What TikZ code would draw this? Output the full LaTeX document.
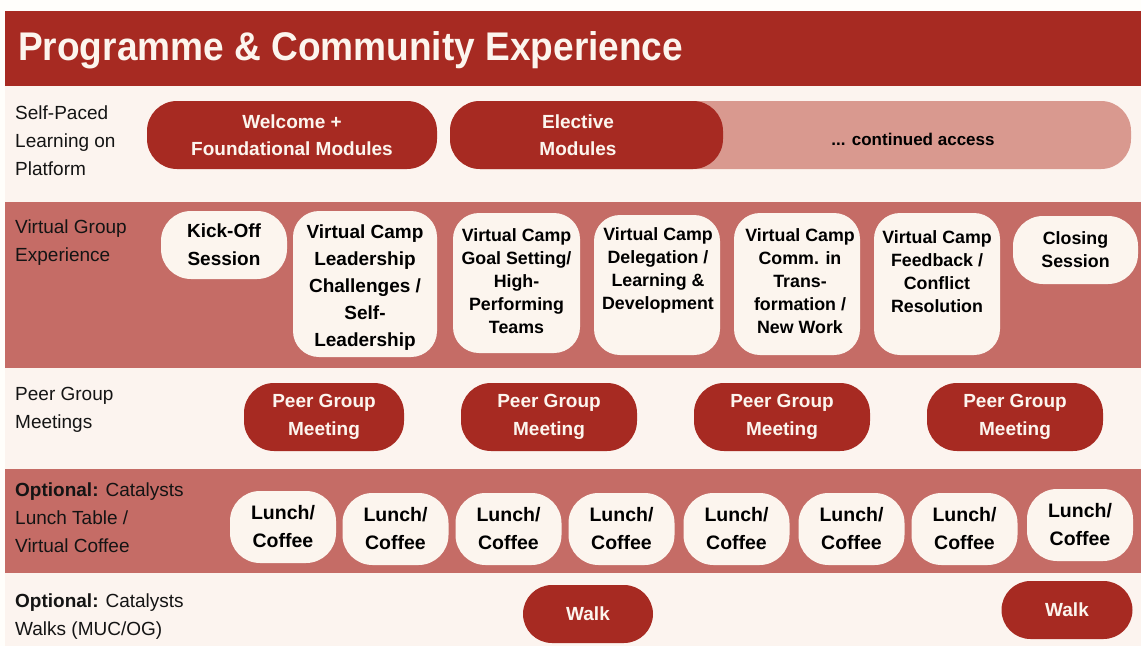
\documentclass[tikz,border=0pt]{standalone}
\usepackage{fontspec}
\setmainfont{Liberation Sans}
\usepackage{graphicx}
\definecolor{dark}{HTML}{A72A22}
\definecolor{band}{HTML}{C56C66}
\definecolor{cream}{HTML}{FCF4EF}
\definecolor{boxfill}{HTML}{FCF5EE}
\definecolor{lightpill}{HTML}{D9998F}
\definecolor{outer}{HTML}{FFFEFB}
\definecolor{ink}{HTML}{141414}
\tikzset{
  lbl/.style={anchor=west, align=left, inner sep=0pt, text=ink, font=\fontsize{19}{28}\selectfont},
  darkpill/.style={fill=dark, rounded corners=30pt, inner sep=0pt, align=center, text=boxfill, font=\bfseries\fontsize{19}{27}\selectfont},
  whitebox/.style={fill=boxfill, rounded corners=26pt, inner sep=0pt, align=center, text=black, font=\bfseries\fontsize{17.8}{23}\selectfont},
  btext/.style={inner sep=0pt, align=center, text=black, font=\bfseries\fontsize{17.8}{23}\selectfont},
  peer/.style={darkpill, minimum width=160pt, minimum height=68pt, font=\bfseries\fontsize{19}{28}\selectfont},
  lunch/.style={whitebox, rounded corners=30pt, minimum width=106pt, minimum height=72pt, font=\bfseries\fontsize{19.5}{28}\selectfont},
  walk/.style={darkpill, rounded corners=29pt, minimum width=131pt, minimum height=58pt}
}
\begin{document}
\begin{tikzpicture}[x=1pt,y=-1pt]
\useasboundingbox (0,0) rectangle (1141,646);
% backgrounds
\fill[outer] (0,0) rectangle (1141,646);
\fill[dark] (5,11) rectangle (1141,86);
\fill[cream] (5,86) rectangle (1141,202);
\fill[band] (5,202) rectangle (1141,368);
\fill[cream] (5,368) rectangle (1141,469);
\fill[band] (5,469) rectangle (1141,573);
\fill[cream] (5,573) rectangle (1141,646);
% title
\node[anchor=base west, inner sep=0pt, text=boxfill, font=\bfseries\fontsize{40}{40}\selectfont] (title) at (18,60) {\resizebox{665pt}{\height}{Programme \& Community Experience}};
% row labels
\node[lbl] (l1) at (15,141) {Self-Paced\\Learning on\\Platform};
\node[lbl] (l2) at (15,242.5) {Virtual Group\\Experience};
\node[lbl] (l3) at (15,410) {Peer Group\\Meetings};
\node[lbl] (l4) at (15,518) {\textbf{Optional:} Catalysts\\Lunch Table /\\Virtual Coffee};
\node[lbl] (l5) at (15,616.5) {\textbf{Optional:} Catalysts\\Walks (MUC/OG)};
% row 1
\node[darkpill, minimum width=290pt, minimum height=68pt] (welcome) at (292,135) {Welcome +\\Foundational Modules};
\node[fill=lightpill, rounded corners=30pt, minimum width=681pt, minimum height=68pt, inner sep=0pt] (access) at (790.5,135) {};
\node[darkpill, minimum width=273pt, minimum height=68pt] (elective) at (586.5,135) {};
\node[btext, font=\bfseries\fontsize{19}{27}\selectfont, text=boxfill] (electiveT) at (578,135) {Elective\\Modules};
\node[btext, font=\bfseries\fontsize{17}{23}\selectfont] (accessT) at (913,139) {... continued access};
% row 2
\node[whitebox, rounded corners=30pt, minimum width=126pt, minimum height=68pt, font=\bfseries\fontsize{19}{28}\selectfont] (kick) at (224,245) {Kick-Off\\Session};
\node[whitebox, minimum width=144pt, minimum height=146pt] (lead) at (365,284) {};
\node[btext, font=\bfseries\fontsize{19}{27}\selectfont] (leadT) at (365,288) {Virtual Camp\\Leadership\\Challenges /\\Self-\\Leadership};
\node[whitebox, minimum width=127pt, minimum height=140pt] (goal) at (516.5,283) {};
\node[btext] (goalT) at (516.5,281) {Virtual Camp\\Goal Setting/\\High-\\Performing\\Teams};
\node[whitebox, minimum width=126pt, minimum height=140pt] (deleg) at (657,285) {};
\node[btext] (delegT) at (658,270) {Virtual Camp\\Delegation /\\Learning \&\\Development};
\node[whitebox, minimum width=126pt, minimum height=142pt] (comm) at (797,284) {};
\node[btext] (commT) at (800,281) {Virtual Camp\\Comm. in\\Trans-\\formation /\\New Work};
\node[whitebox, minimum width=126pt, minimum height=142pt] (feed) at (937,284) {};
\node[btext] (feedT) at (937,271.5) {Virtual Camp\\Feedback /\\Conflict\\Resolution};
\node[whitebox, rounded corners=30pt, minimum width=125pt, minimum height=68pt] (closing) at (1075.5,250) {Closing\\Session};
% row 3
\node[peer] (p1) at (324,417) {Peer Group\\Meeting};
\node[peer, minimum width=176pt] (p2) at (549,417) {Peer Group\\Meeting};
\node[peer, minimum width=176pt] (p3) at (782,417) {Peer Group\\Meeting};
\node[peer, minimum width=176pt] (p4) at (1015,417) {Peer Group\\Meeting};
% row 4
\node[lunch] (c1) at (283,527) {Lunch/\\Coffee};
\node[lunch] (c2) at (395.5,529) {Lunch/\\Coffee};
\node[lunch] (c3) at (508.5,529) {Lunch/\\Coffee};
\node[lunch] (c4) at (621.5,529) {Lunch/\\Coffee};
\node[lunch] (c5) at (736.5,529) {Lunch/\\Coffee};
\node[lunch] (c6) at (851.5,529) {Lunch/\\Coffee};
\node[lunch] (c7) at (964.5,529) {Lunch/\\Coffee};
\node[lunch] (c8) at (1080,525) {Lunch/\\Coffee};
% row 5
\node[walk, minimum width=130pt] (w1) at (588,614) {Walk};
\node[walk] (w2) at (1067,610) {Walk};
\end{tikzpicture}
\end{document}
